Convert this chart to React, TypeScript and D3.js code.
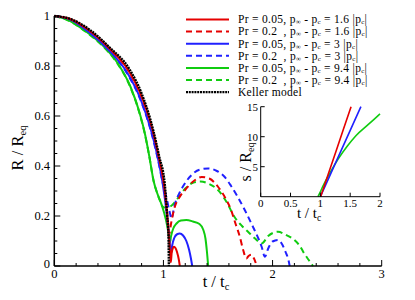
import React from 'react';
import * as d3 from 'd3';

// main plot: R / Req against t / tc
const keller: [number, number][] = [
  [0, 1], [0.15, 0.988], [0.327, 0.944], [0.5, 0.877], [0.693, 0.784], [0.8, 0.69],
  [0.906, 0.544], [0.96, 0.44], [1.013, 0.324], [1.035, 0.2], [1.046, 0.12], [1.05, 0],
];
const red005: [number, number][] = [
  [0, 1], [0.15, 0.987], [0.32, 0.942], [0.5, 0.872], [0.68, 0.782], [0.8, 0.678],
  [0.9, 0.545], [0.955, 0.44], [1.005, 0.325], [1.035, 0.2], [1.052, 0.11], [1.063, 0.04],
  [1.068, 0.015], [1.075, 0.05], [1.085, 0.07], [1.097, 0.077], [1.11, 0.072],
  [1.125, 0.055], [1.14, 0.028], [1.15, 0],
];
const blue005: [number, number][] = [
  [0, 1], [0.15, 0.985], [0.31, 0.938], [0.5, 0.863], [0.67, 0.772], [0.79, 0.668],
  [0.885, 0.545], [0.945, 0.44], [0.995, 0.325], [1.03, 0.21], [1.052, 0.12], [1.064, 0.065],
  [1.07, 0.05], [1.08, 0.082], [1.1, 0.113], [1.125, 0.127], [1.15, 0.13], [1.18, 0.122],
  [1.21, 0.1], [1.235, 0.065], [1.252, 0.03], [1.264, 0],
];
const green005: [number, number][] = [
  [0, 1], [0.12, 0.985], [0.3, 0.935], [0.45, 0.88], [0.57, 0.818], [0.7, 0.715],
  [0.78, 0.615], [0.83, 0.53], [0.87, 0.44], [0.91, 0.34], [0.94, 0.295], [0.975, 0.255],
  [1.005, 0.215], [1.035, 0.16], [1.052, 0.115], [1.06, 0.095], [1.07, 0.12], [1.09, 0.15],
  [1.12, 0.17], [1.16, 0.182], [1.21, 0.184], [1.27, 0.178], [1.33, 0.168], [1.365, 0.145],
  [1.385, 0.11], [1.398, 0.06], [1.41, 0],
];
const red02: [number, number][] = [
  [0, 1], [0.15, 0.986], [0.32, 0.94], [0.5, 0.87], [0.68, 0.78], [0.8, 0.675],
  [0.9, 0.54], [0.955, 0.435], [1.005, 0.32], [1.035, 0.21], [1.055, 0.13], [1.07, 0.17],
  [1.1, 0.23], [1.15, 0.277], [1.2, 0.305], [1.29, 0.344], [1.35, 0.356], [1.42, 0.35],
  [1.5, 0.317], [1.57, 0.27], [1.62, 0.224], [1.66, 0.17], [1.7, 0.117], [1.73, 0.065],
  [1.76, 0.03], [1.78, 0.04], [1.805, 0.045], [1.83, 0.03], [1.855, 0],
];
const blue02: [number, number][] = [
  [0, 1], [0.15, 0.984], [0.31, 0.936], [0.5, 0.86], [0.67, 0.768], [0.79, 0.664],
  [0.885, 0.54], [0.945, 0.435], [0.995, 0.33], [1.03, 0.27], [1.055, 0.22], [1.075, 0.19],
  [1.1, 0.24], [1.15, 0.295], [1.196, 0.33], [1.26, 0.365], [1.33, 0.385], [1.41, 0.39],
  [1.49, 0.38], [1.56, 0.357], [1.62, 0.32], [1.68, 0.277], [1.75, 0.22], [1.82, 0.157],
  [1.87, 0.11], [1.9, 0.077], [1.93, 0.037], [1.96, 0.07], [2.0, 0.098], [2.05, 0.104],
  [2.09, 0.085], [2.12, 0.055], [2.145, 0.025], [2.157, 0],
];
const green02: [number, number][] = [
  [0, 1], [0.12, 0.984], [0.3, 0.933], [0.45, 0.877], [0.57, 0.815], [0.7, 0.712],
  [0.78, 0.612], [0.83, 0.527], [0.87, 0.44], [0.91, 0.34], [0.94, 0.295], [0.97, 0.26],
  [0.995, 0.237], [1.03, 0.232], [1.07, 0.24], [1.12, 0.264], [1.2, 0.31], [1.27, 0.333],
  [1.34, 0.338], [1.42, 0.328], [1.5, 0.304], [1.58, 0.255], [1.65, 0.197], [1.72, 0.16],
  [1.775, 0.137], [1.84, 0.11], [1.9, 0.09], [1.96, 0.12], [2.05, 0.137], [2.12, 0.125],
  [2.2, 0.104], [2.25, 0.08], [2.29, 0.05], [2.33, 0.025], [2.37, 0],
];

// inset: s / Req against t / tc
const insetRed: [number, number][] = [[1.005, 0], [1.26, 7.5], [1.515, 15]];
const insetBlue: [number, number][] = [[1.0, 0], [1.34, 7.5], [1.68, 15]];
const insetGreen: [number, number][] = [
  [0.96, 0], [1.0, 0.8], [1.05, 1.9], [1.18, 4.3], [1.3, 6.3], [1.45, 8.4],
  [1.6, 10.2], [1.8, 12.0], [2.0, 13.8],
];

const xTicks = [0, 1, 2, 3];
const yTicks = [0, 0.2, 0.4, 0.6, 0.8, 1];
const insetXTicks = [0, 0.5, 1, 1.5, 2];
const insetXLabels = ['0', '0.5', '1', '1.5', '2'];
const insetYTicks = [5, 10, 15];

const legendPr = ['0.05', '0.2  ', '0.05', '0.2  ', '0.05', '0.2  '];
const legendDp = ['1.6', '1.6', '3', '3', '9.4', '9.4'];

const RED = '#e60000';
const BLUE = '#2020ff';
const GREEN = '#10cc10';
const colors = [RED, RED, BLUE, BLUE, GREEN, GREEN];
const dashed = [false, true, false, true, false, true];

const FONT = "'Liberation Serif', 'Times New Roman', Times, serif";

export default function App() {
  const x = d3.scaleLinear().domain([0, 3]).range([54.3, 381.7]);
  const y = d3.scaleLinear().domain([0, 1]).range([266, 16]);
  const xi = d3.scaleLinear().domain([0, 2]).range([260.7, 380]);
  const yi = d3.scaleLinear().domain([0, 15]).range([196.7, 106.7]);

  const line = d3.line<[number, number]>().x((d) => x(d[0])).y((d) => y(d[1])).curve(d3.curveMonotoneX);
  const lineInset = d3.line<[number, number]>().x((d) => xi(d[0])).y((d) => yi(d[1])).curve(d3.curveMonotoneX);

  const xMinor = d3.range(0, 3.001, 0.2).filter((v) => Math.abs(v - Math.round(v)) > 1e-6);
  const yMinor = d3.range(0, 1.001, 0.05).filter((v) => Math.abs(v * 5 - Math.round(v * 5)) > 1e-6);

  const dashedSeries = [
    { d: green02, c: GREEN },
    { d: blue02, c: BLUE },
    { d: red02, c: RED },
  ];
  const solidSeries = [
    { d: green005, c: GREEN },
    { d: blue005, c: BLUE },
    { d: red005, c: RED },
  ];

  return (
    <svg width={415} height={300} style={{ position: 'absolute', left: 0, top: 0, background: '#fff', fontFamily: FONT }}>
      <style>{`text { font-family: ${FONT}; }`}</style>
      {/* curves */}
      {dashedSeries.map((s, i) => (
        <path key={'d' + i} d={line(s.d) || ''} fill="none" stroke={s.c} strokeWidth={2} strokeDasharray="6 4" />
      ))}
      {solidSeries.map((s, i) => (
        <path key={'s' + i} d={line(s.d) || ''} fill="none" stroke={s.c} strokeWidth={2} />
      ))}
      <path d={line(keller) || ''} fill="none" stroke="#000" strokeWidth={2.4} strokeDasharray="2 0.8" />

      {/* main axes */}
      <line x1={x(0)} x2={x(3)} y1={y(0)} y2={y(0)} stroke="#000" strokeWidth={1.5} />
      <line x1={x(0)} x2={x(0)} y1={y(0)} y2={y(1)} stroke="#000" strokeWidth={1.5} />
      {xTicks.map((t) => (
        <g key={'xt' + t}>
          <line x1={x(t)} x2={x(t)} y1={y(0)} y2={y(0) - 6} stroke="#000" strokeWidth={1} />
          <text x={x(t)} y={278} fontSize={12.5} textAnchor="middle">{t}</text>
        </g>
      ))}
      {xMinor.map((t) => (
        <line key={'xm' + t} x1={x(t)} x2={x(t)} y1={y(0)} y2={y(0) - 3} stroke="#000" strokeWidth={1} />
      ))}
      {yTicks.map((t) => (
        <g key={'yt' + t}>
          <line x1={x(0)} x2={x(0) + 6} y1={y(t)} y2={y(t)} stroke="#000" strokeWidth={1} />
          <text x={50} y={y(t) + (t === 0 ? 2 : 4)} fontSize={12.5} textAnchor="end">{t}</text>
        </g>
      ))}
      {yMinor.map((t) => (
        <line key={'ym' + t} x1={x(0)} x2={x(0) + 3} y1={y(t)} y2={y(t)} stroke="#000" strokeWidth={1} />
      ))}
      <text x={216} y={287} fontSize={16.5} textAnchor="middle">
        t / t<tspan fontSize={10.5} dy={3}>c</tspan>
      </text>
      <text transform="translate(23,148) rotate(-90)" fontSize={16.5} textAnchor="middle">
        R / R<tspan fontSize={10.5} dy={3}>eq</tspan>
      </text>

      {/* legend */}
      {legendPr.map((pr, i) => {
        const ly = 19.5 + i * 12.1;
        return (
          <g key={'lg' + i}>
            <line x1={186} x2={229} y1={ly} y2={ly} stroke={colors[i]} strokeWidth={2} strokeDasharray={dashed[i] ? '6 4' : undefined} />
            <text x={238} y={ly + 3.8} fontSize={11.5} letterSpacing={0.3} style={{ whiteSpace: 'pre' }}>
              {'Pr = ' + pr + ', p'}
              <tspan fontSize={7} dy={1}>∞</tspan>
              <tspan dy={-1}>{' - p'}</tspan>
              <tspan fontSize={7} dy={1}>c</tspan>
              <tspan dy={-1}>{' = ' + legendDp[i] + ' |p'}</tspan>
              <tspan fontSize={7} dy={1}>c</tspan>
              <tspan dy={-1}>|</tspan>
            </text>
          </g>
        );
      })}
      <line x1={186} x2={229} y1={19.5 + 6 * 12.1} y2={19.5 + 6 * 12.1} stroke="#000" strokeWidth={2.4} strokeDasharray="2 0.8" />
      <text x={238} y={19.5 + 6 * 12.1 + 3.8} fontSize={11.5} letterSpacing={0.3}>Keller model</text>

      {/* inset */}
      {[{ d: insetGreen, c: GREEN }, { d: insetBlue, c: BLUE }, { d: insetRed, c: RED }].map((s, i) => (
        <path key={'in' + i} d={lineInset(s.d) || ''} fill="none" stroke={s.c} strokeWidth={1.6} />
      ))}
      <line x1={xi(0)} x2={xi(2)} y1={yi(0)} y2={yi(0)} stroke="#000" strokeWidth={1} />
      <line x1={xi(0)} x2={xi(0)} y1={yi(0)} y2={yi(15)} stroke="#000" strokeWidth={1} />
      {insetXTicks.map((t, i) => (
        <g key={'ixt' + t}>
          <line x1={xi(t)} x2={xi(t)} y1={yi(0)} y2={yi(0) - 4} stroke="#000" strokeWidth={1} />
          <text x={xi(t)} y={207} fontSize={11} textAnchor="middle">{insetXLabels[i]}</text>
        </g>
      ))}
      {insetYTicks.map((t) => (
        <g key={'iyt' + t}>
          <line x1={xi(0)} x2={xi(0) + 4} y1={yi(t)} y2={yi(t)} stroke="#000" strokeWidth={1} />
          <text x={258} y={yi(t) + 4} fontSize={11} textAnchor="end">{t}</text>
        </g>
      ))}
      <text x={309} y={218} fontSize={15} textAnchor="middle">
        t / t<tspan fontSize={9.5} dy={3}>c</tspan>
      </text>
      <text transform="translate(251,162) rotate(-90)" fontSize={16} textAnchor="middle">
        s / R<tspan fontSize={10} dy={3}>eq</tspan>
      </text>
    </svg>
  );
}
